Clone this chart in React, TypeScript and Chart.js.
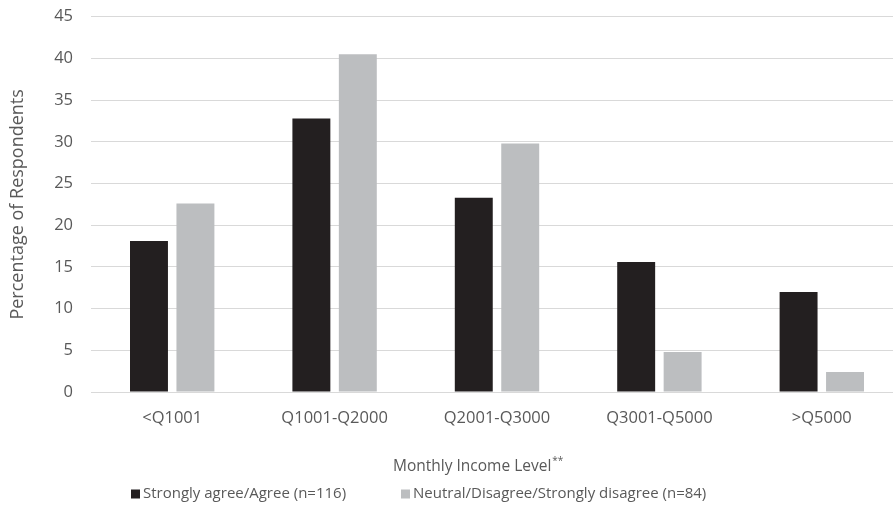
import React, { useEffect, useRef } from "react";
import { Chart, registerables } from "chart.js";

Chart.register(...registerables);

const categories = ["<Q1001", "Q1001-Q2000", "Q2001-Q3000", "Q3001-Q5000", ">Q5000"];
const agreeValues = [18.1, 32.8, 23.3, 15.6, 12.0];
const neutralValues = [22.6, 40.5, 29.8, 4.8, 2.4];
const seriesLabels = ["Strongly agree/Agree (n=116)", "Neutral/Disagree/Strongly disagree (n=84)"];
const seriesColors = ["#231f20", "#bcbec0"];
const yMin = 0;
const yMax = 45;
const yStep = 5;
const yTitle = "Percentage of Respondents";
const xTitle = "Monthly Income Level";
const xTitleSup = "**";

const FONT = "'Open Sans', 'Noto Sans', sans-serif";
const TEXT = "#595959";

const overlayPlugin = {
  id: "overlayText",
  afterDraw(chart: any) {
    const ctx = chart.ctx;
    ctx.save();
    ctx.fillStyle = TEXT;
    // x-axis title with superscript
    const mainFont = `15.5px ${FONT}`;
    const supFont = `10px ${FONT}`;
    const startX = 393;
    const baseY = 471;
    ctx.textBaseline = "alphabetic";
    ctx.textAlign = "left";
    ctx.font = mainFont;
    const wMain = ctx.measureText(xTitle).width;
    ctx.fillText(xTitle, startX, baseY);
    ctx.font = supFont;
    ctx.fillText(xTitleSup, startX + wMain + 1, baseY - 7);

    // legend
    ctx.font = `15px ${FONT}`;
    const box = 9;
    const legendY = 494;
    const anchors = [131, 401];
    chart.data.datasets.forEach((ds: any, i: number) => {
      const x = anchors[i];
      ctx.fillStyle = ds.backgroundColor;
      ctx.fillRect(x, legendY - box / 2, box, box);
      ctx.fillStyle = TEXT;
      ctx.textBaseline = "middle";
      ctx.fillText(ds.label, x + box + 3, legendY);
    });
    ctx.restore();
  },
};

export default function App() {
  const ref = useRef<HTMLCanvasElement | null>(null);
  useEffect(() => {
    if (!ref.current) return;
    const chart = new Chart(ref.current, {
      type: "bar",
      data: {
        labels: categories,
        datasets: [
          { label: seriesLabels[0], data: agreeValues, backgroundColor: seriesColors[0] },
          { label: seriesLabels[1], data: neutralValues, backgroundColor: seriesColors[1] },
        ],
      },
      options: {
        responsive: false,
        devicePixelRatio: 1,
        animation: false,
        layout: { padding: { top: 16.7, right: 1, left: 0, bottom: 0 } },
        datasets: {
          bar: { categoryPercentage: 0.572, barPercentage: 0.817 },
        },
        plugins: {
          legend: { display: false },
          tooltip: { enabled: false },
        },
        scales: {
          x: {
            grid: { display: false, drawTicks: false },
            border: { display: false },
            ticks: { color: TEXT, font: { family: FONT, size: 16.5 }, padding: 16, maxRotation: 0 },
            afterFit: (s: any) => { s.height = 125; s.paddingLeft = 0; s.paddingRight = 0; },
          },
          y: {
            min: yMin,
            max: yMax,
            grid: { color: "#d9d9d9", lineWidth: 1, drawTicks: false },
            border: { display: false },
            ticks: { stepSize: yStep, color: TEXT, font: { family: FONT, size: 16.5 }, padding: 18 },
            title: {
              display: true,
              text: yTitle,
              color: TEXT,
              font: { family: FONT, size: 18 },
              padding: { top: 7, bottom: 0 },
            },
            afterFit: (s: any) => { s.width = 91; s.paddingTop = 0; s.paddingBottom = 0; },
          },
        },
      },
      plugins: [overlayPlugin],
    });
    return () => chart.destroy();
  }, []);
  return (
    <div style={{ position: "absolute", left: 0, top: 0, width: 893, height: 517, overflow: "hidden", background: "#fff" }}>
      <canvas ref={ref} width={904} height={517} style={{ display: "block" }} />
    </div>
  );
}
